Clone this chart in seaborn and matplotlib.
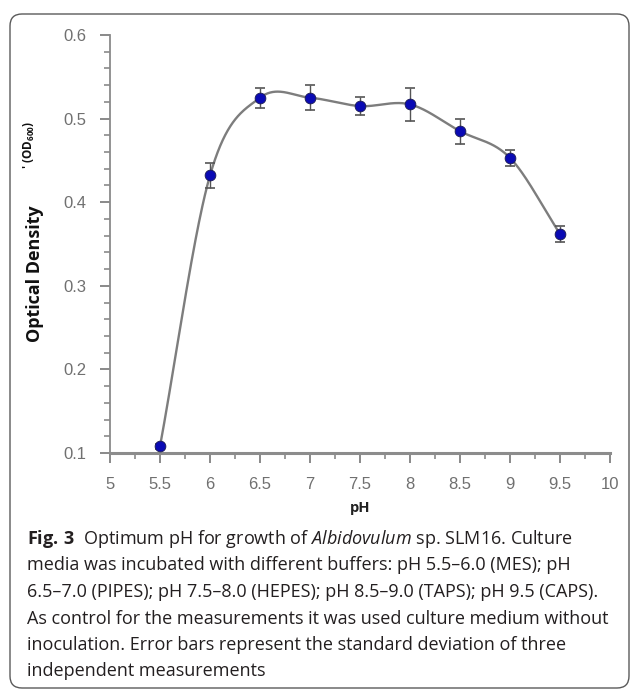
import numpy as np
import pandas as pd
import matplotlib
matplotlib.use("Agg")
import matplotlib.pyplot as plt
import seaborn as sns
from matplotlib.patches import FancyBboxPatch
from matplotlib.ticker import MultipleLocator

# values
ph = [5.5, 6.0, 6.5, 7.0, 7.5, 8.0, 8.5, 9.0, 9.5]
od600 = [0.108, 0.432, 0.525, 0.525, 0.515, 0.517, 0.485, 0.453, 0.362]
sd = [0.003, 0.015, 0.012, 0.015, 0.011, 0.020, 0.015, 0.010, 0.010]
x_ticks = [5, 5.5, 6, 6.5, 7, 7.5, 8, 8.5, 9, 9.5, 10]
y_ticks = [0.1, 0.2, 0.3, 0.4, 0.5, 0.6]

caption = [
    r"$\mathbf{Fig.\,3}$  Optimum pH for growth of $\mathit{Albidovulum}$ sp. SLM16. Culture",
    "media was incubated with different buffers: pH 5.5\u20136.0 (MES); pH",
    "6.5\u20137.0 (PIPES); pH 7.5\u20138.0 (HEPES); pH 8.5\u20139.0 (TAPS); pH 9.5 (CAPS).",
    "As control for the measurements it was used culture medium without",
    "inoculation. Error bars represent the standard deviation of three",
    "independent measurements",
]


def smooth_curve(x, y, n=60):
    # cardinal (Catmull-Rom) spline through the points, like the plotting program's smoothed line
    x = np.asarray(x, float)
    y = np.asarray(y, float)
    m = np.empty_like(y)
    m[0] = (y[1] - y[0]) / (x[1] - x[0])
    m[-1] = (y[-1] - y[-2]) / (x[-1] - x[-2])
    m[1:-1] = (y[2:] - y[:-2]) / (x[2:] - x[:-2])
    xs, ys = [], []
    for i in range(len(x) - 1):
        h = x[i + 1] - x[i]
        t = np.linspace(0, 1, n)
        h00 = 2 * t**3 - 3 * t**2 + 1
        h10 = t**3 - 2 * t**2 + t
        h01 = -2 * t**3 + 3 * t**2
        h11 = t**3 - t**2
        xs.append(x[i] + t * h)
        ys.append(h00 * y[i] + h10 * h * m[i] + h01 * y[i + 1] + h11 * h * m[i + 1])
    return np.concatenate(xs), np.concatenate(ys)


sns.set_style("ticks")
plt.rcParams["font.family"] = ["Open Sans", "DejaVu Sans"]
plt.rcParams["mathtext.fontset"] = "custom"
plt.rcParams["mathtext.rm"] = "Open Sans"
plt.rcParams["mathtext.it"] = "Open Sans:italic"
plt.rcParams["mathtext.bf"] = "Open Sans:bold"

fig = plt.figure(figsize=(6.3, 6.89), dpi=100)
ax = fig.add_axes([110 / 630, 1 - 453 / 689, 500 / 630, 418 / 689])

df = pd.DataFrame({"pH": ph, "OD": od600, "sd": sd})
cx, cy = smooth_curve(df["pH"], df["OD"])
curve = pd.DataFrame({"pH": cx, "OD": cy})

sns.lineplot(data=curve, x="pH", y="OD", color="#7d7d7d", lw=1.7, ax=ax, zorder=2)
ax.errorbar(df["pH"], df["OD"], yerr=df["sd"], fmt="none", ecolor="#555555",
            elinewidth=1.0, capsize=3.5, capthick=1.2, zorder=3)
sns.scatterplot(data=df, x="pH", y="OD", s=60, color="#0a0ab4", edgecolor="#1a1a50",
                linewidth=0.6, ax=ax, zorder=4)

ax.set_xlim(5, 10)
ax.set_ylim(0.1, 0.6)
ax.set_xticks(x_ticks)
ax.set_xticklabels([f"{v:g}" for v in x_ticks])
ax.set_yticks(y_ticks)
ax.set_yticklabels([f"{v:.1f}" for v in y_ticks])
ax.xaxis.set_minor_locator(MultipleLocator(0.25))
ax.yaxis.set_minor_locator(MultipleLocator(0.02))

for lab in ax.get_xticklabels() + ax.get_yticklabels():
    lab.set_family(["Liberation Sans", "DejaVu Sans"])
    lab.set_fontsize(12)
    lab.set_color("#707070")
ax.tick_params(which="major", length=7, width=1.3, color="#808080", pad=10)
ax.tick_params(which="minor", length=4, width=1.1, color="#808080")

sns.despine(ax=ax)
ax.spines["left"].set_color("#8a8a8a")
ax.spines["left"].set_linewidth(1.3)
ax.spines["bottom"].set_color("#8c8c8c")
ax.spines["bottom"].set_linewidth(2.2)

ax.set_xlabel("pH", fontsize=10.5, fontweight="bold", color="#222222")
ax.xaxis.set_label_coords(0.5, (453 - 508) / 418)
ax.xaxis.label.set_va("center")
ax.set_ylabel("Optical Density", fontsize=13, fontweight="bold", color="#111111")
ax.yaxis.set_label_coords((35 - 110) / 500, (453 - 274) / 418)
ax.yaxis.label.set_va("center")
fig.text(29 / 630, 1 - 145 / 689, r"' (OD$_{\mathbf{600}}$)", rotation=90,
         fontsize=8.5, fontweight="bold", color="#111111", ha="center", va="center")

for i, line in enumerate(caption):
    fig.text(27 / 630, 1 - (544 + 26.5 * i) / 689, line, fontsize=13.0,
             color="#231f20", ha="left", va="baseline")

frame = FancyBboxPatch((0.10, 0.01), 6.19, 6.74, boxstyle="round,pad=0,rounding_size=0.12",
                       transform=fig.dpi_scale_trans, fill=False, edgecolor="#5a5a5a",
                       linewidth=1.0, clip_on=False)
fig.patches.append(frame)

fig.savefig("out.png", dpi=100)
